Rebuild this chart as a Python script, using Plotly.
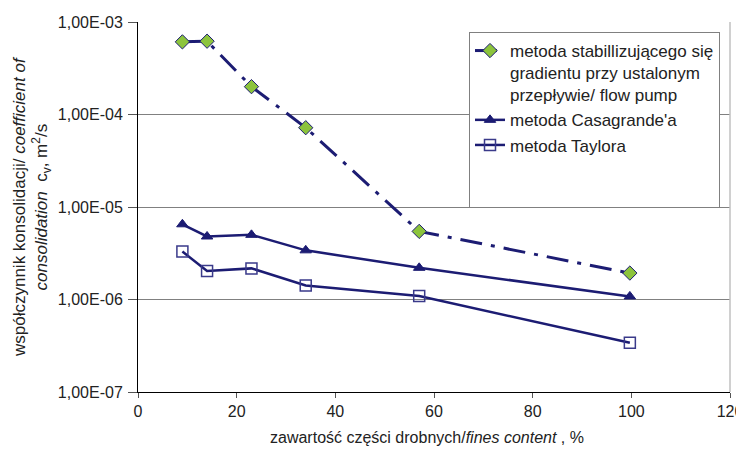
import plotly.graph_objects as go

fines = [9, 14, 23, 34, 57, 99.7]
flow_pump = [6.1e-4, 6.2e-4, 2.0e-4, 7.2e-5, 5.45e-6, 1.93e-6]
casagrande = [6.5e-6, 4.8e-6, 5.0e-6, 3.4e-6, 2.2e-6, 1.08e-6]
taylor = [3.3e-6, 2.03e-6, 2.17e-6, 1.42e-6, 1.09e-6, 3.4e-7]

y_tickvals = [1e-7, 1e-6, 1e-5, 1e-4, 1e-3]
y_ticktext = ["1,00E-07", "1,00E-06", "1,00E-05", "1,00E-04", "1,00E-03"]
x_tickvals = [0, 20, 40, 60, 80, 100, 120]

NAVY = "#1c1c73"
FONT = "Liberation Sans, Arial, sans-serif"

fig = go.Figure()
fig.add_trace(go.Scatter(
    x=fines, y=flow_pump, mode="lines+markers",
    name="metoda stabillizującego się<br>gradientu przy ustalonym<br>przepływie/ flow pump",
    line=dict(color=NAVY, width=3, dash="22px,9px,4px,9px"),
    marker=dict(symbol="diamond", size=11, color="#8cc43c", line=dict(color=NAVY, width=1)),
))
fig.add_trace(go.Scatter(
    x=fines, y=casagrande, mode="lines+markers",
    name="metoda Casagrande'a",
    line=dict(color=NAVY, width=2.5),
    marker=dict(symbol="triangle-up", size=10, color=NAVY, line=dict(color=NAVY, width=1)),
))
fig.add_trace(go.Scatter(
    x=fines, y=taylor, mode="lines+markers",
    name="metoda Taylora<br>&nbsp;<br>&nbsp;",
    line=dict(color=NAVY, width=2.5),
    marker=dict(symbol="square-open", size=11, color="#3a3a8a", line=dict(width=1.5)),
))

fig.update_layout(
    width=736, height=446,
    margin=dict(l=130, r=14, t=14, b=62, autoexpand=False),
    paper_bgcolor="white", plot_bgcolor="white",
    font=dict(family=FONT, size=16, color="#222"),
    showlegend=True,
    legend=dict(
        x=(469 - 138) / 592, y=(392 - 32) / 370, xanchor="left", yanchor="top",
        bgcolor="white", bordercolor="#808080", borderwidth=1,
        font=dict(family=FONT, size=17, color="#222"),
        valign="top", tracegroupgap=0, itemwidth=30,
    ),
    xaxis=dict(
        range=[0, 120], tickvals=x_tickvals, ticks="outside", ticklen=5,
        tickcolor="#555", showline=True, linecolor="black", linewidth=1,
        showgrid=False, zeroline=False, tickfont=dict(size=16), automargin=False,
    ),
    yaxis=dict(
        type="log", range=[-7, -3], tickvals=y_tickvals, ticktext=y_ticktext,
        ticks="outside", ticklen=9, tickcolor="#555", showline=True,
        linecolor="black", linewidth=1, showgrid=True, gridcolor="#808080",
        gridwidth=1, zeroline=False, tickfont=dict(size=16), automargin=False,
        ticklabelstandoff=2,
    ),
    shapes=[dict(type="line", xref="paper", yref="paper", x0=1, x1=1, y0=0, y1=1,
                 line=dict(color="#c0c0c0", width=1.5))],
    annotations=[
        dict(text="współczynnik konsolidacji/ <i>coefficient of</i><br><i>consolidation</i>  c<sub>v</sub>, m<sup>2</sup>/s",
             xref="paper", yref="paper", x=(32 - 138) / 592, y=0.5, textangle=-90,
             showarrow=False, font=dict(size=17), xanchor="center", yanchor="middle"),
        dict(text="zawartość części drobnych/<i>fines content</i> , %",
             xref="paper", yref="paper", x=(427 - 138) / 592, y=(392 - 437) / 370,
             showarrow=False, font=dict(size=16), xanchor="center", yanchor="middle"),
    ],
)

fig.write_html("out.html")
